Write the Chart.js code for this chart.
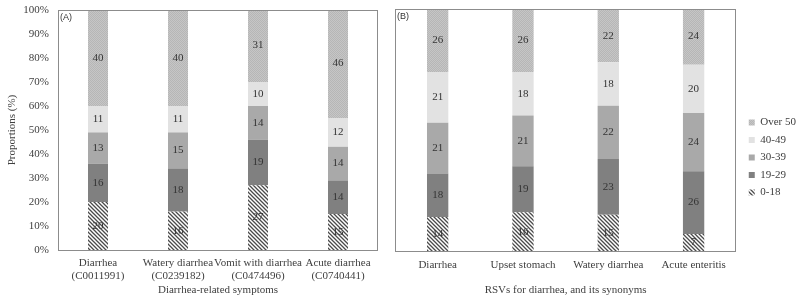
<!DOCTYPE html>
<html><head><meta charset="utf-8">
<script src="https://cdn.jsdelivr.net/npm/chart.js@4/dist/chart.umd.min.js"></script>
<style>
html,body{margin:0;padding:0;background:#fff;width:800px;height:306px;overflow:hidden}
#w1{position:absolute;left:0;top:0;width:390px;height:306px}
#w2{position:absolute;left:385px;top:0;width:415px;height:306px}
</style></head><body>
<div id="w1"><canvas id="c1"></canvas></div>
<div id="w2"><canvas id="c2"></canvas></div>
<script>
// ---- data ----
const ageGroups = ['0-18', '19-29', '30-39', '40-49', 'Over 50'];
const yTickValues = [0, 10, 20, 30, 40, 50, 60, 70, 80, 90, 100];

const symptomLabels = [['Diarrhea', '(C0011991)'], ['Watery diarrhea', '(C0239182)'], ['Vomit with diarrhea', '(C0474496)'], ['Acute diarrhea', '(C0740441)']];
const symptom_0_18   = [20, 16, 27, 15];
const symptom_19_29  = [16, 18, 19, 14];
const symptom_30_39  = [13, 15, 14, 14];
const symptom_40_49  = [11, 11, 10, 12];
const symptom_over50 = [40, 40, 31, 46];

const rsvLabels = ['Diarrhea', 'Upset stomach', 'Watery diarrhea', 'Acute enteritis'];
const rsv_0_18   = [14, 16, 15, 7];
const rsv_19_29  = [18, 19, 23, 26];
const rsv_30_39  = [21, 21, 22, 24];
const rsv_40_49  = [21, 18, 18, 20];
const rsv_over50 = [26, 26, 22, 24];

// ---- styles ----
const SERIF = "'Liberation Serif', 'Times New Roman', serif";
const TXT = '#404040';

function hatchPattern() {
  const c = document.createElement('canvas'); c.width = 4; c.height = 4;
  const g = c.getContext('2d');
  g.fillStyle = '#ffffff'; g.fillRect(0, 0, 4, 4);
  g.strokeStyle = '#4a4a4a'; g.lineWidth = 1.3;
  g.beginPath();
  g.moveTo(-1, -1); g.lineTo(5, 5);
  g.moveTo(-1, 3); g.lineTo(1, 5);
  g.moveTo(3, -1); g.lineTo(5, 1);
  g.stroke();
  return g.createPattern(c, 'repeat');
}
function dotPattern() {
  const c = document.createElement('canvas'); c.width = 2; c.height = 2;
  const g = c.getContext('2d');
  g.fillStyle = '#c6c6c6'; g.fillRect(0, 0, 2, 2);
  g.fillStyle = '#b6b6b6'; g.fillRect(0, 0, 1, 1); g.fillRect(1, 1, 1, 1);
  return g.createPattern(c, 'repeat');
}
const fills = [hatchPattern(), '#808080', '#a9a9a9', '#e2e2e2', dotPattern()];

function makeDatasets(series) {
  return series.map((d, i) => ({
    label: ageGroups[i], data: d, backgroundColor: fills[i], borderWidth: 0,
    barPercentage: 0.25, categoryPercentage: 1
  }));
}

const framePlugin = {
  id: 'frame',
  afterDatasetsDraw(chart, args, opts) {
    const {ctx, chartArea: a} = chart;
    ctx.save();
    ctx.strokeStyle = '#8c8c8c'; ctx.lineWidth = 1;
    ctx.strokeRect(Math.round(a.left) + 0.5, Math.round(a.top) + 0.5, Math.round(a.right - a.left) - 1, Math.round(a.bottom - a.top));
    // panel tag
    ctx.fillStyle = '#333';
    ctx.font = "9px 'Liberation Sans', Arial, sans-serif";
    ctx.textAlign = 'left'; ctx.textBaseline = 'middle';
    ctx.fillText(opts.tag, a.left + 2, a.top + 8);
    // value labels
    ctx.font = '11px ' + SERIF;
    ctx.fillStyle = '#333';
    ctx.textAlign = 'center';
    chart.data.datasets.forEach((ds, i) => {
      const meta = chart.getDatasetMeta(i);
      meta.data.forEach((bar, j) => {
        const p = bar.getProps(['x', 'y', 'base'], true);
        ctx.fillText(String(ds.data[j]), p.x, (p.y + p.base) / 2);
      });
    });
    ctx.restore();
  }
};

const legendShift = {
  id: 'legendShift',
  afterLayout(chart) {
    if (chart.legend && chart.legend.options.display) {
      chart.legend.left += 6; chart.legend.right += 6;
    }
  }
};

function yPct(v) { return v + '%'; }

// ---- left chart ----
new Chart(document.getElementById('c1'), {
  type: 'bar',
  data: {
    labels: symptomLabels,
    datasets: makeDatasets([symptom_0_18, symptom_19_29, symptom_30_39, symptom_40_49, symptom_over50])
  },
  options: {
    responsive: true, maintainAspectRatio: false, animation: false, devicePixelRatio: 1,
    layout: {padding: {top: 10, right: 12, left: 4, bottom: 0}},
    plugins: {legend: {display: false}, tooltip: {enabled: false}, frame: {tag: '(A)'}},
    scales: {
      x: {
        stacked: true,
        grid: {display: false, drawTicks: false},
        border: {display: false},
        ticks: {color: TXT, font: {family: SERIF, size: 11}, padding: 6.5, maxRotation: 0, autoSkip: false},
        title: {display: true, text: 'Diarrhea-related symptoms', color: TXT, font: {family: SERIF, size: 11}, padding: {top: 2, bottom: 9.5}},
        afterFit(s) { s.height = 56; s.paddingLeft = 0; s.paddingRight = 0; }
      },
      y: {
        stacked: true, min: 0, max: 100,
        afterBuildTicks(s) { s.ticks = yTickValues.map(v => ({value: v})); },
        grid: {display: false, drawTicks: false},
        border: {display: false},
        ticks: {color: TXT, font: {family: SERIF, size: 11}, padding: 9, callback: yPct},
        title: {display: true, text: 'Proportions (%)', color: TXT, font: {family: SERIF, size: 11}, padding: {top: 1.5, bottom: 0}},
        afterFit(s) { s.width = 54; s.paddingTop = 0; s.paddingBottom = 0; }
      }
    }
  },
  plugins: [framePlugin]
});

// ---- right chart ----
new Chart(document.getElementById('c2'), {
  type: 'bar',
  data: {
    labels: rsvLabels,
    datasets: makeDatasets([rsv_0_18, rsv_19_29, rsv_30_39, rsv_40_49, rsv_over50])
  },
  options: {
    responsive: true, maintainAspectRatio: false, animation: false, devicePixelRatio: 1,
    layout: {padding: {top: 9, right: 0, left: 0, bottom: 0}},
    plugins: {
      tooltip: {enabled: false},
      frame: {tag: '(B)'},
      legend: {
        display: true, position: 'right', reverse: true,
        labels: {boxWidth: 6, boxHeight: 6, padding: 6.5, color: TXT, font: {family: SERIF, size: 11}}
      }
    },
    scales: {
      x: {
        stacked: true,
        grid: {display: false, drawTicks: false},
        border: {display: false},
        ticks: {color: TXT, font: {family: SERIF, size: 11}, padding: 7.5, maxRotation: 0, autoSkip: false},
        title: {display: true, text: 'RSVs for diarrhea, and its synonyms', color: TXT, font: {family: SERIF, size: 11}, padding: {top: 2, bottom: 9.5}},
        afterFit(s) { s.height = 55; s.paddingLeft = 0; s.paddingRight = 0; }
      },
      y: {
        stacked: true, min: 0, max: 100,
        grid: {display: false, drawTicks: false},
        border: {display: false},
        ticks: {display: false},
        afterFit(s) { s.width = 10; s.paddingTop = 0; s.paddingBottom = 0; }
      }
    }
  },
  plugins: [framePlugin, legendShift]
});
</script>
</body></html>
